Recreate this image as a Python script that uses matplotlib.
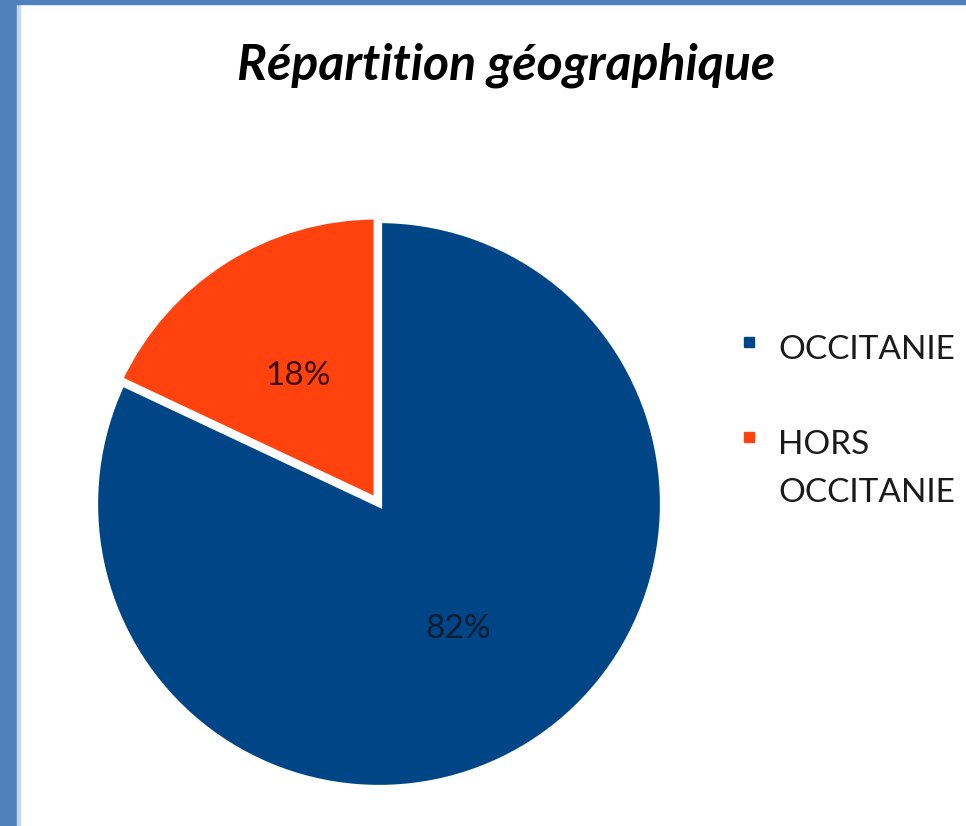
import matplotlib
matplotlib.use("Agg")
import matplotlib.pyplot as plt
from matplotlib.patches import Rectangle
from matplotlib.lines import Line2D

title = "Répartition géographique"
categories = ["OCCITANIE", "HORS\nOCCITANIE"]
values = [82, 18]
colors = ["#004586", "#ff420e"]
label_colors = ["#0d1b33", "#3b0a00"]
explode = [0.0, 0.015]

W, H = 966, 826
fig = plt.figure(figsize=(W / 100, H / 100), dpi=100)
fig.patch.set_facecolor("white")

# frame bands
fig.patches.append(Rectangle((0, 0), 17 / W, 1, transform=fig.transFigure,
                             color="#4f81bd", zorder=0))
fig.patches.append(Rectangle((17 / W, 0), 3 / W, 1 - 4 / H, transform=fig.transFigure,
                             color="#c5d5ea", zorder=0))
fig.patches.append(Rectangle((0, 1 - 4 / H), 1, 4 / H, transform=fig.transFigure,
                             color="#4f81bd", zorder=0))

cx, cy, r = 379, 504, 284
half = 1.1 * r
ax = fig.add_axes([(cx - half) / W, (H - cy - half) / H, 2 * half / W, 2 * half / H])
wedges, texts, autotexts = ax.pie(
    values, colors=colors, explode=explode, startangle=90, counterclock=False,
    autopct="%.0f%%", pctdistance=0.52, radius=1.0,
    wedgeprops=dict(linewidth=4.5, edgecolor="white"),
    textprops=dict(fontsize=24, family="Lato"))
for t, c in zip(autotexts, label_colors):
    t.set_color(c)
ax.set_xlim(-1.1, 1.1)
ax.set_ylim(-1.1, 1.1)
ax.set_aspect("equal")
ax.axis("off")

fig.text(506 / W, 1 - 80 / H, title, ha="center", va="baseline", fontsize=36,
         fontweight="bold", fontstyle="italic", family="Lato", color="black")

# legend (drawn manually so markers align with the first text line)
leg_x_marker = 749
leg_x_text = 778
leg_first_baseline = 359
item_gap = 95
line_gap = 48
marker_offset = 17  # marker center above baseline
y = leg_first_baseline
for label, c in zip(categories, colors):
    fig.add_artist(Line2D([leg_x_marker / W], [1 - (y - marker_offset) / H],
                          marker="s", linestyle="none", markersize=6.5,
                          markerfacecolor=c, markeredgecolor=c,
                          transform=fig.transFigure))
    for i, line in enumerate(label.split("\n")):
        fig.text(leg_x_text / W, 1 - (y + i * line_gap) / H, line, ha="left",
                 va="baseline", fontsize=24, family="Lato", color="#1a1a1a")
    y += item_gap + (label.count("\n")) * line_gap

fig.savefig("out.png", dpi=100, facecolor="white")
